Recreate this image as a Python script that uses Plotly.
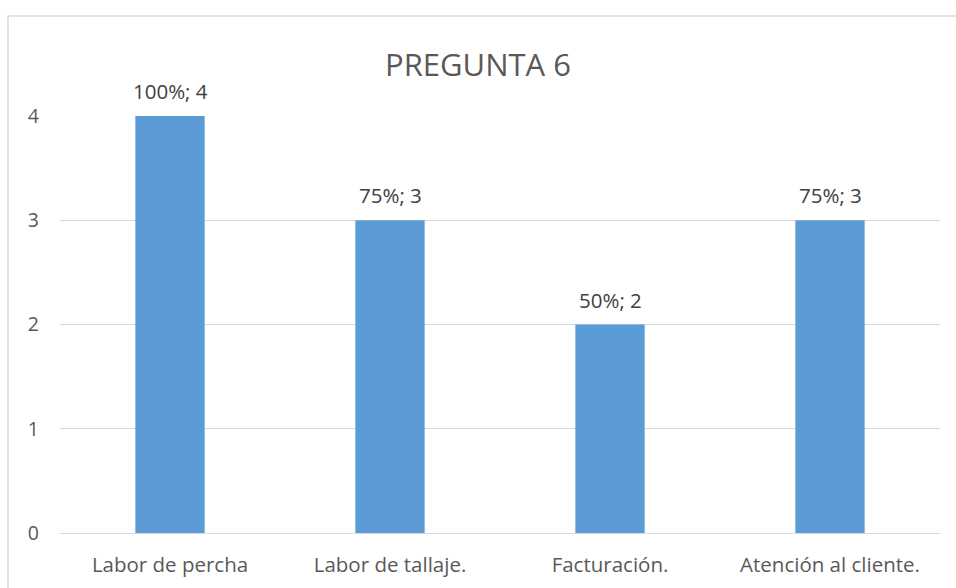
import plotly.graph_objects as go

categories = ["Labor de percha", "Labor de tallaje.", "Facturación.", "Atención al cliente."]
values = [4, 3, 2, 3]
percents = ["100%", "75%", "50%", "75%"]
labels = [f"{p}; {v}" for p, v in zip(percents, values)]

W, H = 956, 588
L, R, T, B = 60, 16, 116, 55
FONT = "Open Sans, Noto Sans, sans-serif"

fig = go.Figure(go.Bar(
    x=categories, y=values,
    marker=dict(color="#5B9BD5", line=dict(width=0)),
    width=0.315,
))

for c, v, t in zip(categories, values, labels):
    fig.add_annotation(x=c, y=v, text=t, showarrow=False, yanchor="middle", yshift=25,
                       font=dict(family=FONT, size=20.5, color="#404040"))

pw = W - L - R
ph = H - T - B
fig.update_layout(
    width=W, height=H,
    margin=dict(l=L, r=R, t=T, b=B),
    paper_bgcolor="white", plot_bgcolor="white",
    font=dict(family=FONT, color="#595959", size=20),
    title=dict(text="PREGUNTA 6", x=0.5, xanchor="center", y=1 - 65 / H, yanchor="middle",
               font=dict(family=FONT, size=31, color="#595959")),
    showlegend=False,
    xaxis=dict(showgrid=False, showline=True, linecolor="#D9D9D9", linewidth=1, automargin=False,
               ticks="", ticklabelstandoff=13, tickfont=dict(family=FONT, size=20.5, color="#595959")),
    yaxis=dict(range=[0, 4], dtick=1, showgrid=True, gridcolor="#D9D9D9", gridwidth=1, automargin=False,
               zeroline=False, showline=False, ticks="", ticklen=0, ticklabelstandoff=20,
               tickfont=dict(family=FONT, size=19.5, color="#595959")),
    shapes=[dict(type="rect", xref="paper", yref="paper",
                 x0=(8 - L) / pw, x1=(W + 20 - L) / pw,
                 y0=-(H + 20 - T - ph) / ph, y1=(H - 16 - B) / ph,
                 line=dict(color="#D9D9D9", width=1.5), fillcolor="rgba(0,0,0,0)", layer="below")],
)

fig.write_html("out.html")
